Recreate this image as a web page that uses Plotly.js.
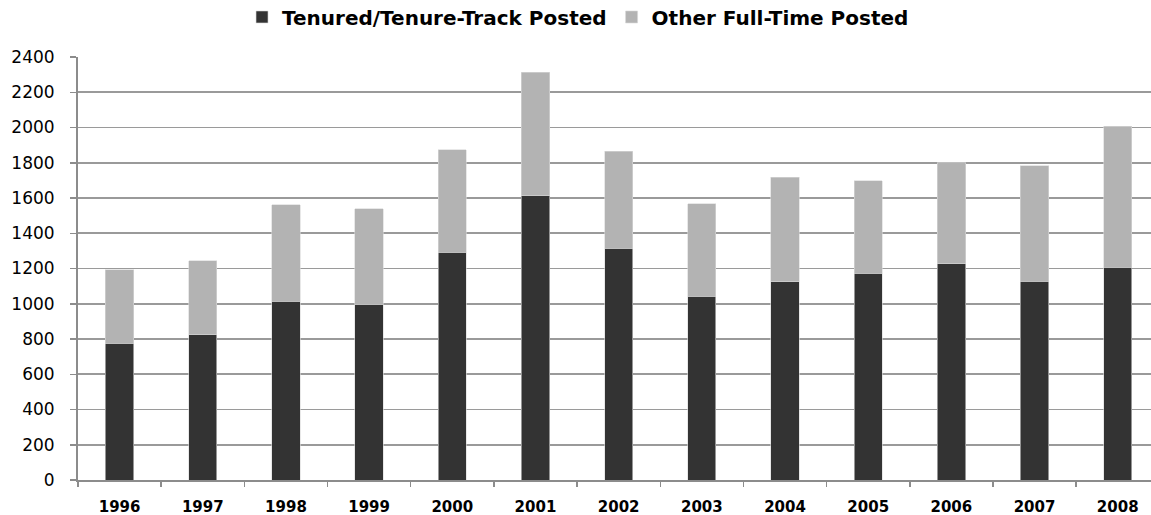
<!DOCTYPE html>
<html>
<head>
<meta charset="utf-8">
<script src="https://cdn.plot.ly/plotly-3.0.1.min.js"></script>
<style>html,body{margin:0;padding:0;background:#fff;}#chart{width:1151px;height:515px;}</style>
</head>
<body>
<div id="chart"></div>
<script>
const years = ["1996","1997","1998","1999","2000","2001","2002","2003","2004","2005","2006","2007","2008"];
const tenuredPosted = [776, 825, 1013, 998, 1292, 1614, 1315, 1044, 1124, 1173, 1226, 1128, 1207];
const otherFullTimePosted = [416, 418, 549, 542, 582, 699, 550, 524, 595, 525, 574, 655, 800];
const yTicks = [0,200,400,600,800,1000,1200,1400,1600,1800,2000,2200,2400];

const traces = [
  {type:'bar', name:'Tenured/Tenure-Track Posted', x:years, y:tenuredPosted,
   marker:{color:'#333333', line:{color:'#d9d9d9', width:0.6}}, width:0.34},
  {type:'bar', name:'Other Full-Time Posted', x:years, y:otherFullTimePosted,
   marker:{color:'#b3b3b3', line:{color:'#d9d9d9', width:0.6}}, width:0.34}
];

const layout = {
  width:1151, height:515, autosize:false,
  margin:{l:78, r:0, t:57, b:35, pad:0, autoexpand:false},
  barmode:'stack',
  paper_bgcolor:'#fff', plot_bgcolor:'#fff',
  font:{family:'DejaVu Sans', color:'#000'},
  showlegend:true,
  legend:{orientation:'h', xref:'paper', x:0.466, xanchor:'center', y:1.0946, yanchor:'middle',
          font:{family:'DejaVu Sans', size:20, color:'#000', weight:'bold'}, itemclick:false, traceorder:'normal'},
  xaxis:{type:'category', range:[-0.5, 12.4], showgrid:false, automargin:false, tickangle:0,
         showline:true, linecolor:'#8c8c8c', linewidth:2,
         ticks:'outside', ticklen:5, tickcolor:'#8c8c8c', tickwidth:1.5, tickson:'boundaries',
         ticklabelstandoff:12,
         tickfont:{family:'DejaVu Sans', size:15, color:'#000', weight:'bold'}},
  yaxis:{range:[0,2400], tickvals:yTicks, ticktext:yTicks.map(String), automargin:false,
         showgrid:true, gridcolor:'#9a9a9a', gridwidth:1.8,
         showline:true, linecolor:'#8c8c8c', linewidth:2,
         ticks:'outside', ticklen:6, tickcolor:'#8c8c8c', tickwidth:1.5,
         ticklabelstandoff:12,
         zeroline:false,
         tickfont:{family:'DejaVu Sans', size:17, color:'#000'}}
};

Plotly.newPlot('chart', traces, layout, {displayModeBar:false, staticPlot:true});
</script>
</body>
</html>
